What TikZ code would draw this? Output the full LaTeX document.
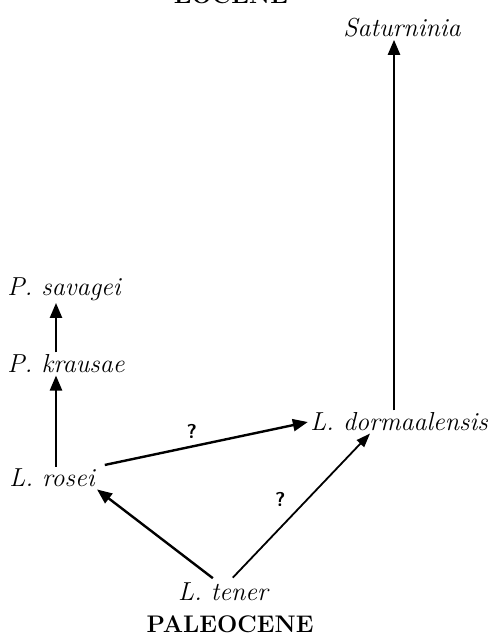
\documentclass[tikz,border=0pt]{standalone}
\usetikzlibrary{arrows.meta}
\tikzset{
  taxon/.style={font=\fontsize{13}{15}\selectfont\itshape, inner sep=1pt},
  epoch/.style={font=\fontsize{12}{14}\selectfont\bfseries, inner sep=1pt},
  arr/.style={-{Triangle[length=7.5pt,width=6pt]}, line width=1.2pt},
  thinarr/.style={-{Triangle[length=7pt,width=5pt]}, line width=0.9pt},
  qmark/.style={font=\fontsize{10}{12}\selectfont\bfseries\sffamily}
}
\begin{document}
\begin{tikzpicture}[x=0.5pt,y=-0.5pt]
    \useasboundingbox (0,0) rectangle (488,637);

    % epochs
    \node[epoch] (eocene) at (231,-5) {EOCENE};
    \node[epoch] (paleocene) at (230,624) {PALEOCENE};

    % taxa
    \node[taxon] (sat) at (402,28) {Saturninia};
    \node[taxon] (savagei) at (64,289) {P. savagei};
    \node[taxon] (krausae) at (66,364) {P. krausae};
    \node[taxon] (rosei) at (52,478) {L. rosei};
    \node[taxon] (dorm) at (399,422) {L. dormaalensis};
    \node[taxon] (tener) at (223,592) {L. tener};

    % lineages
    \draw[arr] (dorm.north -| 394,0) -- (sat.south -| 394,0);
    \draw[arr] (rosei.north -| 56,0) -- (krausae.south -| 56,0);
    \draw[arr] (krausae.north -| 56,0) -- (savagei.south -| 56,0);
    \draw[arr, shorten <=4pt] (rosei.north east) -- node[qmark, above, pos=0.45] {?} (dorm.west);
    \draw[arr, shorten <=2pt] ([xshift=-3.5pt]tener.north) -- (rosei.south east);
    \draw[thinarr, shorten <=2pt] ([xshift=3.5pt]tener.north) -- node[qmark, above left, pos=0.45] {?} ([xshift=-14.5pt]dorm.south);
\end{tikzpicture}
\end{document}
